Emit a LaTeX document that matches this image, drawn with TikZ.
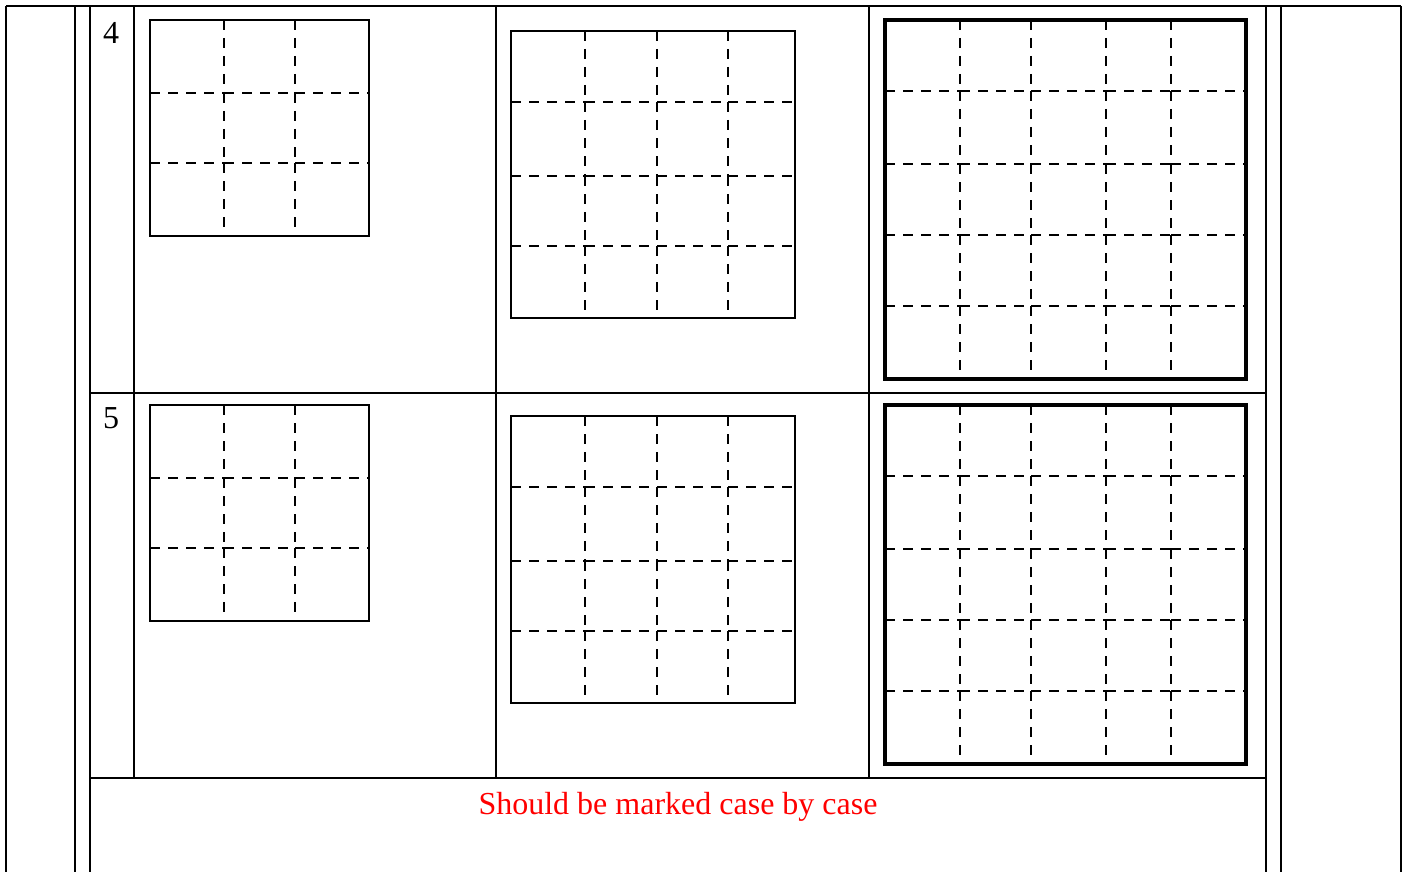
\documentclass[tikz,border=0pt]{standalone}
\usepackage{fontspec}
\setmainfont{Liberation Serif}
\begin{document}
\begin{tikzpicture}[x=1pt,y=-1pt,
    rule/.style={line width=2.3pt},
    frame/.style={line width=2.3pt},
    heavyframe/.style={line width=4.8pt},
    gridline/.style={line width=2.4pt, dash pattern=on 10pt off 8pt},
    label/.style={font=\fontsize{32}{36}\selectfont}]
\useasboundingbox (0,0) rectangle (1407,872);
% Table rules
\draw[rule] (6,6) -- (1401,6);
\foreach \x in {6,75,90,1266,1281,1401} {
    \draw[rule] (\x,6) -- (\x,872);
}
\foreach \x in {134,496,869} {
    \draw[rule] (\x,6) -- (\x,778);
}
\draw[rule] (90,393) -- (1266,393);
\draw[rule] (90,778) -- (1266,778);
% Row numbers
\node[label] (num4) at (111,33) {4};
\node[label] (num5) at (111,418) {5};
% Grids (row 4, then row 5 shifted down)
\foreach \dy in {0,385} {
    % 3 x 3
    \draw[frame] (150,20+\dy) rectangle (369,236+\dy);
    \foreach \x in {224,295} {
        \foreach \ya/\yb in {20/93,93/163,163/236}
            \draw[gridline] (\x,\ya+\dy) -- (\x,\yb+\dy);
    }
    \foreach \y in {93,163} {
        \foreach \xa/\xb in {150/224,224/295,295/369}
            \draw[gridline] (\xa,\y+\dy) -- (\xb,\y+\dy);
    }
    % 4 x 4
    \draw[frame] (511,31+\dy) rectangle (795,318+\dy);
    \foreach \x in {585,657,728} {
        \foreach \ya/\yb in {31/102,102/176,176/246,246/318}
            \draw[gridline] (\x,\ya+\dy) -- (\x,\yb+\dy);
    }
    \foreach \y in {102,176,246} {
        \foreach \xa/\xb in {511/585,585/657,657/728,728/795}
            \draw[gridline] (\xa,\y+\dy) -- (\xb,\y+\dy);
    }
    % 5 x 5
    \draw[heavyframe] (885,20+\dy) rectangle (1246,379+\dy);
    \foreach \x in {960,1031,1106,1171} {
        \foreach \ya/\yb in {20/91,91/164,164/235,235/306,306/379}
            \draw[gridline] (\x,\ya+\dy) -- (\x,\yb+\dy);
    }
    \foreach \y in {91,164,235,306} {
        \foreach \xa/\xb in {885/960,960/1031,1031/1106,1106/1171,1171/1246}
            \draw[gridline] (\xa,\y+\dy) -- (\xb,\y+\dy);
    }
}
% Note
\node[label, text=red] (note) at (678,807) {Should be marked case by case};
\end{tikzpicture}
\end{document}
